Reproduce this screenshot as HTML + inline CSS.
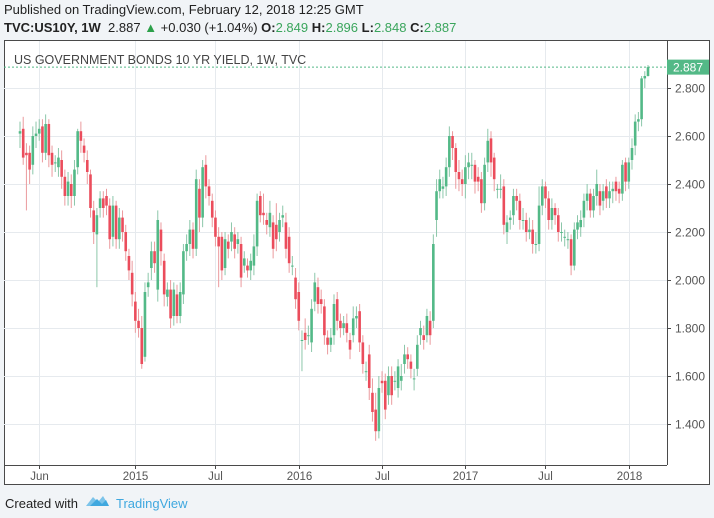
<!DOCTYPE html>
<html><head><meta charset="utf-8">
<style>
html,body{margin:0;padding:0;}
body{width:714px;height:518px;background:#f1f4f7;font-family:"Liberation Sans",sans-serif;position:relative;overflow:hidden;}
.hdr{position:absolute;left:4px;font-size:13px;color:#222;white-space:nowrap;}
</style></head>
<body>
<div class="hdr" style="top:2px;">Published on TradingView.com, February 12, 2018 12:25 GMT</div>
<div class="hdr" style="top:20px;"><b>TVC:US10Y, 1W</b>&nbsp; 2.887 <span style="color:#2ca04a">▲</span> +0.030 (+1.04%) <b>O:</b><span style="color:#3aa55c">2.849</span> <b>H:</b><span style="color:#3aa55c">2.896</span> <b>L:</b><span style="color:#3aa55c">2.848</span> <b>C:</b><span style="color:#3aa55c">2.887</span></div>
<svg id="chart" width="714" height="518" style="position:absolute;left:0;top:0" xmlns="http://www.w3.org/2000/svg">
<rect x="4.5" y="40.5" width="705" height="444" fill="#fff" stroke="#4a4a4a"/>
<g id="grid"></g>
<g id="candles"></g>
<line x1="667.5" y1="40" x2="667.5" y2="465" stroke="#4a4a4a"/>
<line x1="4" y1="465.5" x2="667" y2="465.5" stroke="#4a4a4a"/>
<g id="axes" font-family="Liberation Sans, sans-serif" font-size="12" fill="#555"></g>
<text x="14" y="64" font-size="12.5" fill="#444">US GOVERNMENT BONDS 10 YR YIELD, 1W, TVC</text>
<g id="last"></g>
<text x="5" y="508" font-size="13" fill="#222">Created with</text>
<g>
<path d="M86 506 L93 497 L98 502 L103 496 L109 506 Z" fill="#7cc4ea"/>
<path d="M90 506 L97 499 L102 504 L106 500 L109 506 Z" fill="#3fa8df"/>
<text x="116" y="508" font-size="13" fill="#3fa8df">TradingView</text>
</g>
</svg>
<script>
const opens=[2.61,2.63,2.53,2.53,2.48,2.60,2.61,2.64,2.53,2.65,
2.53,2.49,2.47,2.50,2.43,2.35,2.40,2.35,2.47,2.62,
2.56,2.50,2.44,2.29,2.19,2.30,2.34,2.35,2.31,2.18,
2.31,2.17,2.26,2.20,2.10,2.03,1.91,1.83,1.80,1.68,
1.97,2.05,2.12,1.96,2.21,2.08,1.93,1.96,1.85,1.94,
1.85,1.94,2.12,2.15,2.21,2.13,2.38,2.26,2.48,2.39,
2.33,2.26,2.18,2.18,2.05,2.16,2.16,2.19,2.15,2.15,
2.06,2.06,2.04,2.06,2.14,2.35,2.28,2.25,2.22,2.24,
2.23,2.20,2.26,2.24,2.18,2.06,2.01,1.95,1.75,1.78,
1.77,1.74,1.91,1.97,1.92,1.89,1.76,1.73,1.77,1.92,
1.83,1.80,
1.82,1.75,1.77,1.84,1.87,1.74,1.62,1.69,1.53,1.46,
1.37,1.58,1.58,1.52,1.60,1.58,1.55,1.58,1.65,1.69,
1.66,1.59,1.63,1.77,1.77,1.77,1.83,1.83,2.25,2.37,
2.38,2.39,2.47,2.60,2.55,2.45,2.42,2.40,2.47,2.48,
2.48,2.43,2.42,2.32,2.49,2.59,2.51,2.38,2.38,2.39,
2.20,2.25,2.27,2.35,2.33,2.25,2.25,2.20,2.21,2.15,
2.15,2.31,2.39,2.34,2.25,2.30,2.27,2.20,2.18,2.17,
2.17,2.06,2.21,2.22,2.26,2.33,2.36,2.29,2.35,2.37,
2.33,2.39,2.34,2.37,2.41,2.38,2.36,2.49,2.41,2.50,
2.56,2.66,2.67,2.84,2.85];
const closes=[2.62,2.51,2.52,2.46,2.60,2.61,2.63,2.53,2.65,2.52,
2.48,2.49,2.51,2.43,2.35,2.41,2.35,2.46,2.62,2.58,
2.53,2.45,2.30,2.20,2.27,2.34,2.30,2.31,2.17,2.31,
2.17,2.26,2.20,2.12,2.04,1.94,1.83,1.80,1.65,1.95,
1.99,2.12,2.07,2.25,2.12,1.94,1.96,1.84,1.96,1.85,
1.95,2.12,2.15,2.21,2.13,2.42,2.26,2.47,2.39,2.35,
2.26,2.18,2.14,2.04,2.17,2.13,2.20,2.13,2.17,2.01,
2.09,2.04,2.08,2.14,2.33,2.27,2.27,2.23,2.28,2.13,
2.17,2.25,2.27,2.13,2.07,2.06,1.92,1.83,1.75,1.75,
1.77,1.88,1.99,1.90,1.90,1.77,1.73,1.76,1.90,1.83,
1.80,1.82,
1.78,1.71,1.84,1.85,1.74,1.65,1.62,1.55,1.45,1.37,
1.55,1.57,1.46,1.60,1.52,1.58,1.64,1.60,1.69,1.67,
1.63,1.59,1.73,1.80,1.75,1.85,1.77,2.15,2.37,2.42,
2.39,2.47,2.60,2.55,2.45,2.42,2.40,2.47,2.49,2.48,
2.41,2.41,2.32,2.48,2.58,2.49,2.42,2.38,2.38,2.23,
2.24,2.26,2.35,2.33,2.25,2.25,2.20,2.21,2.15,2.15,
2.31,2.39,2.34,2.25,2.30,2.27,2.20,2.20,2.18,2.17,
2.06,2.21,2.24,2.25,2.33,2.36,2.29,2.35,2.40,2.31,
2.37,2.34,2.37,2.38,2.37,2.36,2.48,2.41,2.49,2.55,
2.66,2.67,2.84,2.85,2.887];
const highs=[2.66,2.68,2.57,2.56,2.64,2.66,2.67,2.67,2.69,2.67,
2.56,2.52,2.55,2.54,2.46,2.45,2.44,2.50,2.63,2.66,
2.59,2.54,2.46,2.33,2.30,2.37,2.37,2.38,2.34,2.35,
2.33,2.30,2.29,2.23,2.13,2.08,1.95,1.88,1.85,1.99,
2.03,2.16,2.16,2.29,2.24,2.11,1.99,2.00,1.99,1.98,
1.99,2.15,2.19,2.25,2.24,2.46,2.42,2.50,2.52,2.42,
2.36,2.29,2.22,2.20,2.20,2.19,2.24,2.22,2.20,2.18,
2.12,2.09,2.11,2.19,2.36,2.37,2.36,2.28,2.33,2.27,
2.32,2.28,2.31,2.28,2.22,2.10,2.05,1.99,1.79,1.84,
1.81,1.92,2.03,2.01,1.96,1.92,1.79,1.80,1.94,1.95,
1.86,1.85,
1.86,1.78,1.89,1.89,1.90,1.77,1.66,1.73,1.59,1.53,
1.60,1.62,1.61,1.64,1.64,1.62,1.67,1.65,1.73,1.72,
1.69,1.63,1.77,1.83,1.81,1.88,1.87,2.19,2.42,2.46,
2.43,2.51,2.64,2.62,2.57,2.50,2.46,2.52,2.53,2.53,
2.50,2.47,2.45,2.51,2.63,2.62,2.53,2.40,2.44,2.42,
2.27,2.29,2.38,2.38,2.36,2.30,2.28,2.26,2.25,2.20,
2.39,2.42,2.41,2.37,2.34,2.32,2.30,2.24,2.21,2.20,
2.19,2.24,2.27,2.29,2.36,2.40,2.38,2.38,2.46,2.40,
2.40,2.42,2.41,2.41,2.43,2.41,2.50,2.51,2.51,2.59,
2.69,2.70,2.85,2.87,2.896];
const lows=[2.55,2.48,2.29,2.40,2.44,2.55,2.58,2.49,2.50,2.47,
2.43,2.45,2.43,2.38,2.31,2.31,2.30,2.31,2.44,2.53,
2.49,2.40,2.26,2.15,1.97,2.26,2.26,2.27,2.13,2.14,
2.13,2.13,2.16,2.08,2.00,1.89,1.78,1.76,1.63,1.66,
1.93,2.00,2.03,1.91,2.06,1.89,1.89,1.80,1.81,1.82,
1.82,1.90,2.08,2.10,2.09,2.10,2.20,2.22,2.34,2.31,
2.22,2.14,1.97,2.00,2.02,2.09,2.12,2.09,2.11,1.97,
2.03,2.01,2.00,2.02,2.10,2.24,2.23,2.19,2.18,2.09,
2.12,2.16,2.22,2.09,2.03,2.02,1.88,1.79,1.62,1.71,
1.73,1.70,1.87,1.86,1.86,1.73,1.69,1.70,1.73,1.79,
1.76,1.77,
1.74,1.67,1.74,1.80,1.70,1.61,1.58,1.50,1.41,1.33,
1.34,1.53,1.42,1.48,1.48,1.54,1.51,1.54,1.61,1.63,
1.59,1.54,1.60,1.73,1.71,1.74,1.73,1.80,2.18,2.34,
2.34,2.35,2.43,2.50,2.38,2.37,2.35,2.34,2.42,2.42,
2.36,2.37,2.28,2.29,2.45,2.43,2.37,2.34,2.34,2.19,
2.15,2.21,2.23,2.29,2.21,2.21,2.16,2.17,2.11,2.11,
2.12,2.27,2.30,2.21,2.21,2.23,2.16,2.16,2.14,2.13,
2.02,2.04,2.17,2.18,2.22,2.29,2.26,2.26,2.31,2.27,
2.29,2.30,2.30,2.32,2.33,2.32,2.33,2.37,2.38,2.46,
2.52,2.62,2.64,2.80,2.848];
const yTicks=[1.4,1.6,1.8,2.0,2.2,2.4,2.6,2.8];
const xTickLabels=["Jun","2015","Jul","2016","Jul","2017","Jul","2018"];
const xTickWeeks=[6,36,61,87,113,139,164,190];

const NS="http://www.w3.org/2000/svg";
const X0=20,X1=648;
function xScale(i){return X0+i*(X1-X0)/(opens.length-1);}
function yScale(p){return 88+(2.8-p)*240;}
function mk(t,a,parent){const e=document.createElementNS(NS,t);for(const k in a)e.setAttribute(k,a[k]);parent.appendChild(e);return e;}
const grid=document.getElementById('grid'),axes=document.getElementById('axes'),cg=document.getElementById('candles'),last=document.getElementById('last');
yTicks.forEach(v=>{
  const y=Math.round(yScale(v))+0.5;
  const l=mk('line',{x1:4,x2:667,y1:y,y2:y,stroke:'#e6eaee'},grid);
  
  
  mk('line',{x1:667,x2:671,y1:y,y2:y,stroke:'#4a4a4a'},axes);
  const t=mk('text',{x:675,y:y+4},axes);t.textContent=v.toFixed(3);
  
  
});
xTickWeeks.forEach((w,k)=>{
  const x=Math.round(xScale(w))+0.5;
  const l=mk('line',{x1:x,x2:x,y1:41,y2:465,stroke:'#e6eaee'},grid);
  
  
  mk('line',{x1:x,x2:x,y1:465,y2:469,stroke:'#4a4a4a'},axes);
  const t=mk('text',{x:x,y:480,'text-anchor':'middle','font-size':'11.5'},axes);t.textContent=xTickLabels[k];
  
  
});
for(let i=0;i<opens.length;i++){
  const o=opens[i],c=closes[i],up=c>=o,x=xScale(i);
  const g=mk('g',{},cg);
  
  
  mk('line',{x1:x,x2:x,y1:yScale(highs[i]),y2:yScale(lows[i]),stroke:up?'#8cc7aa':'#eb9a9e','stroke-width':1},g);
  const yt=yScale(Math.max(o,c)),yb=yScale(Math.min(o,c));
  mk('rect',{x:x-1.3,y:yt,width:2.6,height:Math.max(1,yb-yt),fill:up?'#53b987':'#eb4d5c'},g);
}
const lp=closes[closes.length-1],ly=yScale(lp);
const dl=mk('line',{x1:4,x2:667,y1:ly,y2:ly,stroke:'#53b987','stroke-dasharray':'2,2'},last);


const lb=mk('rect',{x:667,y:ly-7.5,width:42,height:15,fill:'#53b987'},last);


const lt=mk('text',{x:673,y:ly+4.5,fill:'#fff','font-size':'12','font-family':'Liberation Sans, sans-serif'},last);
lt.textContent=lp.toFixed(3);
</script>
</body></html>
